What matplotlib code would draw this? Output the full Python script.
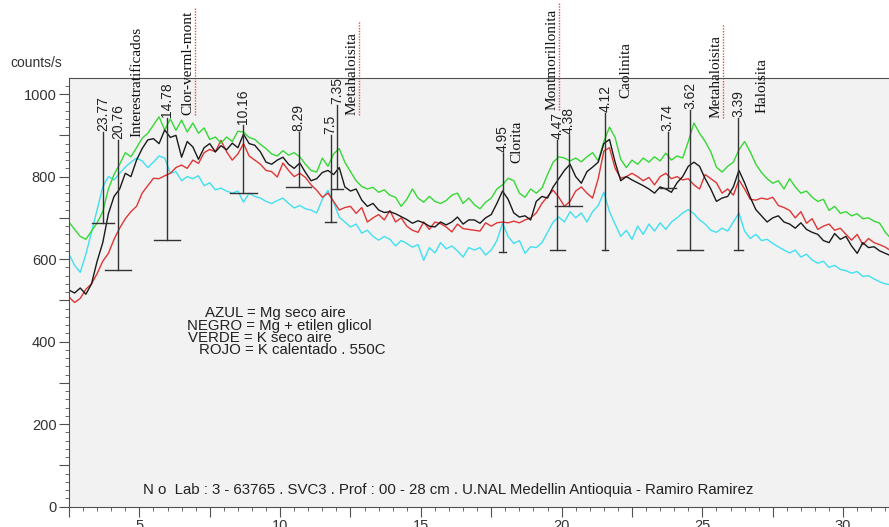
import matplotlib
matplotlib.use("Agg")
import matplotlib.pyplot as plt
import numpy as np
from matplotlib.ticker import MultipleLocator, FuncFormatter

plt.rcParams["font.family"] = ["Liberation Sans", "DejaVu Sans"]

# 2-theta scan, 0.2 deg step
two_theta = np.linspace(2.5, 31.7, 147)

azul = [612, 585, 568, 612, 665, 720, 775, 800, 792, 808,
        823, 835, 845, 838, 822, 835, 850, 845, 808, 812,
        790, 800, 795, 802, 778, 785, 768, 772, 765, 760,
        765, 738, 760, 752, 748, 740, 735, 742, 748, 735,
        724, 730, 722, 719, 712, 745, 767, 738, 702, 690,
        678, 685, 663, 670, 655, 646, 655, 648, 632, 645,
        638, 629, 635, 597, 628, 615, 640, 625, 632, 620,
        605, 628, 622, 628, 610, 622, 645, 687, 655, 638,
        645, 614, 630, 628, 640, 665, 690, 702, 690, 715,
        700, 712, 690, 715, 730, 762, 715, 685, 655, 670,
        648, 680, 660, 685, 668, 688, 672, 690, 700, 712,
        720, 710, 695, 685, 670, 665, 675, 668, 690, 712,
        668, 650, 660, 645, 648, 638, 630, 622, 615, 622,
        605, 612, 598, 590, 595, 580, 585, 575, 572, 566,
        570, 558, 560, 552, 545, 540, 538]

negro = [525, 518, 530, 515, 540, 595, 640, 710, 752, 770,
         808, 800, 840, 868, 889, 892, 880, 913, 895, 900,
         847, 885, 872, 842, 870, 880, 860, 875, 865, 881,
         870, 903, 880, 876, 860, 835, 830, 840, 847, 830,
         820, 833, 810, 790, 795, 810, 815, 805, 822, 775,
         765, 770, 743, 728, 735, 719, 713, 715, 710, 703,
         696, 687, 693, 688, 680, 678, 690, 683, 690, 702,
         685, 695, 695, 687, 700, 708, 735, 765, 745, 712,
         702, 705, 695, 740, 752, 748, 775, 795, 815, 830,
         800, 784, 812, 823, 835, 880, 890, 835, 790, 800,
         792, 785, 778, 770, 760, 775, 770, 762, 785, 800,
         825, 835, 825, 795, 770, 740, 748, 752, 775, 815,
         785, 750, 720, 705, 690, 700, 705, 690, 685, 675,
         688, 672, 665, 660, 645, 640, 662, 648, 655, 632,
         614, 640, 628, 630, 620, 614, 608]

verde = [690, 672, 655, 648, 668, 688, 715, 770, 805, 830,
         858, 848, 870, 893, 905, 925, 945, 913, 940, 912,
         937, 908, 930, 905, 918, 890, 896, 881, 896, 885,
         910, 908, 895, 890, 878, 868, 855, 850, 863, 852,
         858, 848, 830, 815, 811, 845, 825, 855, 868, 835,
         812, 790, 776, 770, 774, 762, 768, 755, 750, 728,
         745, 770, 748, 738, 752, 740, 735, 742, 755, 760,
         735, 748, 732, 722, 738, 748, 770, 780, 796, 790,
         760, 750, 770, 760, 772, 805, 835, 848, 845, 838,
         845, 836, 848, 858, 838, 885, 920, 895, 842, 822,
         840, 830, 845, 835, 848, 838, 857, 840, 850, 845,
         885, 930, 905, 885, 860, 823, 811, 825, 835, 865,
         885, 860, 830, 810, 795, 784, 790, 770, 795, 775,
         760, 765, 750, 740, 745, 718, 728, 711, 715, 705,
         710, 698, 700, 692, 687, 665, 650]

rojo = [508, 495, 505, 527, 540, 565, 595, 614, 648, 675,
        698, 715, 728, 760, 778, 796, 795, 802, 808, 822,
        828, 820, 840, 832, 858, 866, 860, 888, 860, 840,
        855, 880, 850, 840, 830, 815, 812, 799, 833, 815,
        800, 808, 798, 780, 767, 750, 760, 740, 719, 725,
        728, 711, 725, 690, 700, 708, 695, 718, 690, 700,
        680, 670, 665, 690, 672, 690, 686, 678, 666, 685,
        674, 672, 670, 668, 688, 680, 688, 690, 688, 692,
        688, 695, 700, 712, 735, 752, 767, 750, 728, 740,
        765, 775, 760, 748, 795, 862, 870, 820, 796, 800,
        808, 800, 790, 798, 780, 800, 808, 795, 800, 792,
        795, 780, 770, 805, 795, 785, 760, 770, 755, 792,
        770, 745, 743, 748, 745, 750, 730, 725, 718, 700,
        715, 687, 698, 672, 680, 685, 670, 675, 660, 646,
        660, 635, 650, 640, 635, 629, 620]

# d-spacings (Angstrom) marked on the pattern
peak_labels = ["23.77", "20.76", "14.78", "10.16", "8.29", "7.5", "7.35",
               "4.95", "4.47", "4.38", "4.12", "3.74", "3.62", "3.39"]
peak_top = [908, 889, 942, 925, 908, 901, 974, 857, 889, 901, 955, 908, 962, 942]
peak_base = [687, 574, 646, 760, 775, 690, 770, 617, 622, 728, 622, 772, 622, 622]
bar_half = [0.39, 0.46, 0.46, 0.48, 0.44, 0.21, 0.21, 0.12, 0.27, 0.48, 0.11, 0.28, 0.46, 0.16]

minerals = ["Interestratificados", "Clor-verml-mont", "Metahaloisita", "Clorita",
            "Montmorillonita", "Caolinita", "Metahaloisita", "Haloisita"]
mineral_x = [4.91, 6.72, 12.54, 18.42, 19.66, 22.29, 25.48, 27.11]
mineral_y = [896, 949, 949, 833, 961, 990, 942, 954]
spell_flag = [False, True, True, False, True, False, True, False]

legend_lines = ["AZUL = Mg seco aire", "NEGRO = Mg + etilen glicol",
                "VERDE = K seco aire", "ROJO = K calentado . 550C"]
footer = "N o  Lab : 3 - 63765 . SVC3 . Prof : 00 - 28 cm . U.NAL Medellin Antioquia - Ramiro Ramirez"

lam = 1.5406  # Cu K-alpha


def bragg(d):
    return 2 * np.degrees(np.arcsin(lam / (2 * d)))


fig = plt.figure(figsize=(8.89, 5.27), dpi=100)
ax = fig.add_axes([0.0776, 0.0385, 0.9224, 0.8135])
ax.set_facecolor("#f2f2f2")

ax.plot(two_theta, azul, color="#40e0f0", lw=1)
ax.plot(two_theta, rojo, color="#e03535", lw=1)
ax.plot(two_theta, verde, color="#35d835", lw=1)
ax.plot(two_theta, negro, color="#1a1a1a", lw=1)

ax.set_xlim(2.5, 31.63)
ax.set_ylim(0, 1039)

# peak markers
for lab, top, base, hw in zip(peak_labels, peak_top, peak_base, bar_half):
    x = bragg(float(lab))
    ax.plot([x, x], [base, top], color="#333333", lw=1)
    ax.plot([x - hw, x + hw], [base, base], color="#333333", lw=1)
    ax.text(x, top + 2, lab, rotation=90, ha="center", va="bottom",
            fontsize=10, color="#222222", clip_on=False)

for name, x, y, flag in zip(minerals, mineral_x, mineral_y, spell_flag):
    ax.text(x, y, name, rotation=90, ha="center", va="bottom",
            fontsize=11, family="Liberation Serif", color="#111111",
            clip_on=False)
    if flag:
        n = len(name)
        ax.plot([x + 0.26, x + 0.26], [y, y + n * 17.5], color="#e05050",
                lw=1, ls=(0, (1, 1)), clip_on=False)

ys = [469, 438, 409, 380]
xs = [7.32, 6.68, 6.72, 7.11]
for txt, x, y in zip(legend_lines, xs, ys):
    ax.text(x, y, txt, fontsize=10.8, color="#222222", va="center", ha="left")

ax.text(5.12, 40, footer, fontsize=10.8, color="#222222", va="center", ha="left")

fig.text(10 / 889, 1 - 63 / 527, "counts/s", fontsize=10, color="#333333",
         va="center", ha="left")

for side in ["left", "bottom", "top"]:
    ax.spines[side].set_color("#505050")
ax.spines["right"].set_visible(False)

ax.xaxis.set_major_locator(MultipleLocator(2.5))
ax.xaxis.set_minor_locator(MultipleLocator(0.5))
ax.yaxis.set_major_locator(MultipleLocator(100))
ax.yaxis.set_minor_locator(MultipleLocator(20))
ax.xaxis.set_major_formatter(FuncFormatter(lambda v, p: f"{v:g}" if v % 5 == 0 else ""))
ax.yaxis.set_major_formatter(FuncFormatter(lambda v, p: f"{v:g}" if v % 200 == 0 else ""))
ax.tick_params(which="major", length=7, color="#505050", labelsize=10.5,
               labelcolor="#333333", pad=2)
ax.tick_params(which="minor", length=3, color="#505050")

fig.savefig("out.png", dpi=100)
